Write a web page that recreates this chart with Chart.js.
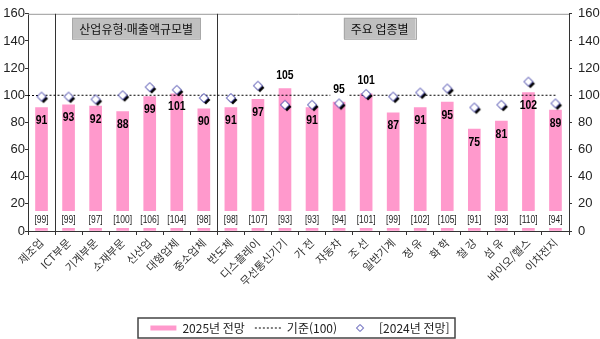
<!DOCTYPE html>
<html lang="ko">
<head>
<meta charset="utf-8">
<script src="https://cdn.jsdelivr.net/npm/chart.js@4.4.1/dist/chart.umd.min.js"></script>
<style>
  html, body { margin: 0; padding: 0; background: #fff; }
  #wrap { width: 600px; height: 339px; }
</style>
</head>
<body>
<div id="wrap"><canvas id="chart"></canvas></div>
<script>
// --- DATA ---
const categories = ['제조업', 'ICT부문', '기계부문', '소재부문', '신산업', '대형업체', '중소업체',
    '반도체', '디스플레이', '무선통신기기', '가 전', '자동차', '조 선', '일반기계',
    '정 유', '화 학', '철 강', '섬 유', '바이오/헬스', '이차전지'];
const outlook2025 = [91, 93, 92, 88, 99, 101, 90, 91, 97, 105, 91, 95, 101, 87, 91, 95, 75, 81, 102, 89];
const outlook2024 = [99, 99, 97, 100, 106, 104, 98, 98, 107, 93, 93, 94, 101, 99, 102, 105, 91, 93, 110, 94];
const baseline = [100, 100, 100, 100, 100, 100, 100, 100, 100, 100, 100, 100, 100, 100, 100, 100, 100, 100, 100, 100];
const groupTitles = ['산업유형·매출액규모별', '주요 업종별'];
const seriesNames = ['2025년 전망', '기준(100)', '[2024년 전망]'];

// --- STYLE ---
const PINK = '#FF99CC';
const KR_FONT = "'Noto Sans CJK KR', 'Noto Sans', sans-serif";
const NUM_FONT = "'Liberation Sans', Arial, sans-serif";

function diamond(g, cx, cy, r) {
    g.beginPath();
    g.moveTo(cx, cy - r);
    g.lineTo(cx + r, cy);
    g.lineTo(cx, cy + r);
    g.lineTo(cx - r, cy);
    g.closePath();
}

// marker with black drop shadow, as in the Excel original
function makeMarker(r, shadow) {
    const c = document.createElement('canvas');
    c.width = c.height = 16;
    const g = c.getContext('2d');
    if (shadow) {
        diamond(g, 10, 10, r);
        g.fillStyle = '#000';
        g.fill();
    }
    diamond(g, 8, 8, r);
    g.fillStyle = '#fff';
    g.fill();
    g.lineWidth = 1;
    g.strokeStyle = '#3A3AA8';
    g.stroke();
    return c;
}

const markerImg = makeMarker(4.5, true);
const legendMarkerImg = makeMarker(3.5, false);

// draws text squeezed horizontally (the original uses a narrow font)
function narrowText(ctx, text, cx, cy, sx) {
    ctx.save();
    ctx.translate(cx, cy);
    ctx.scale(sx, 1);
    ctx.fillText(text, 0, 0);
    ctx.restore();
}

// --- OVERLAY: separators, group boxes, value labels, legend frame ---
const overlayPlugin = {
    id: 'overlay',
    beforeDatasetsDraw(chart, args, opts) {
        const { ctx, chartArea: a, scales: { x, y } } = chart;
        ctx.save();
        // top border of plot area
        ctx.strokeStyle = '#999';
        ctx.lineWidth = 1;
        ctx.beginPath();
        ctx.moveTo(a.left, a.top + 0.5);
        ctx.lineTo(a.right, a.top + 0.5);
        ctx.stroke();

        // group separators
        ctx.strokeStyle = '#333';
        opts.separators.forEach(i => {
            const px = Math.round((x.getPixelForValue(i - 1) + x.getPixelForValue(i)) / 2) + 0.5;
            ctx.beginPath();
            ctx.moveTo(px, a.top);
            ctx.lineTo(px, a.bottom);
            ctx.stroke();
        });

        // dotted baseline from the axis to the first category
        ctx.setLineDash([2, 2]);
        ctx.strokeStyle = '#000';
        const by = Math.round(y.getPixelForValue(100)) + 0.5;
        ctx.beginPath();
        ctx.moveTo(a.left, by);
        ctx.lineTo(x.getPixelForValue(0), by);
        ctx.stroke();
        ctx.setLineDash([]);

        // group title boxes
        ctx.font = '12px ' + KR_FONT;
        ctx.textAlign = 'center';
        ctx.textBaseline = 'middle';
        opts.groupCenters.forEach((c, k) => {
            const cx = (x.getPixelForValue(c - 0.5));
            const w = ctx.measureText(groupTitles[k]).width + 14;
            const top = a.top + 4, h = 21;
            ctx.fillStyle = '#C0C0C0';
            ctx.fillRect(cx - w / 2, top, w, h);
            ctx.strokeStyle = '#A8A8A8';
            ctx.strokeRect(Math.round(cx - w / 2) + 0.5, top + 0.5, Math.round(w), h);
            ctx.fillStyle = '#111';
            ctx.fillText(groupTitles[k], cx, top + h / 2 + 1);
        });
        ctx.restore();
    },
    afterDatasetsDraw(chart, args, opts) {
        const { ctx, scales: { x, y } } = chart;
        const y0 = y.getPixelForValue(0);
        ctx.save();
        ctx.textAlign = 'center';
        ctx.textBaseline = 'middle';

        // [2024] labels on a white band near the bottom of each bar
        ctx.font = '10px ' + NUM_FONT;
        outlook2024.forEach((v, i) => {
            const t = '[' + v + ']';
            const cx = x.getPixelForValue(i);
            const w = ctx.measureText(t).width * 0.85 + 4;
            ctx.fillStyle = '#fff';
            ctx.fillRect(cx - w / 2, y0 - 20, w, 17);
            ctx.fillStyle = '#222';
            narrowText(ctx, t, cx, y0 - 11, 0.85);
        });

        // 2025 values
        ctx.font = 'bold 13px ' + NUM_FONT;
        outlook2025.forEach((v, i) => {
            const cx = x.getPixelForValue(i);
            const top = y.getPixelForValue(v);
            const t = String(v);
            if (opts.aboveIdx.includes(i)) {
                const w = ctx.measureText(t).width * 0.8 + 6;
                ctx.fillStyle = '#fff';
                ctx.fillRect(cx - w / 2, top - 21, w, 15);
                ctx.fillStyle = '#000';
                narrowText(ctx, t, cx, top - 13, 0.8);
            } else {
                ctx.fillStyle = '#000';
                narrowText(ctx, t, cx, top + 13, 0.8);
            }
        });
        ctx.restore();
    },
    afterDraw(chart) {
        const boxes = chart.legend && chart.legend.legendHitBoxes;
        if (!boxes || !boxes.length) return;
        const { ctx } = chart;
        const left = Math.min(...boxes.map(b => b.left)) - 12;
        const right = Math.max(...boxes.map(b => b.left + b.width)) + 6;
        const cy = boxes[0].top + boxes[0].height / 2;
        ctx.save();
        ctx.strokeStyle = '#444';
        ctx.lineWidth = 1.5;
        ctx.strokeRect(Math.round(left), Math.round(cy - 10), Math.round(right - left), 20);
        ctx.restore();
    }
};

const tickFont = { family: NUM_FONT, size: 13 };

new Chart(document.getElementById('chart'), {
    type: 'bar',
    data: {
        labels: categories,
        datasets: [
            {
                label: seriesNames[0],
                data: outlook2025,
                backgroundColor: PINK,
                barThickness: 12,
                order: 3,
                yAxisID: 'y'
            },
            {
                type: 'line',
                label: seriesNames[1],
                data: baseline,
                borderColor: '#000',
                borderWidth: 1,
                borderDash: [2, 2],
                pointRadius: 0,
                order: 2,
                yAxisID: 'y'
            },
            {
                type: 'line',
                label: seriesNames[2],
                data: outlook2024,
                showLine: false,
                pointStyle: markerImg,
                pointRadius: 5,
                order: 1,
                yAxisID: 'y'
            }
        ]
    },
    options: {
        responsive: true,
        maintainAspectRatio: false,
        animation: false,
        layout: { padding: { top: 10, left: 0, right: 0, bottom: -5 } },
        scales: {
            x: {
                grid: { offset: true, drawOnChartArea: false, tickLength: 4, tickColor: '#333' },
                border: { color: '#333' },
                ticks: {
                    minRotation: 45, maxRotation: 45, autoSkip: false, padding: 1,
                    color: '#333', font: { family: KR_FONT, size: 11 }
                },
                afterFit(scale) { scale.height = 81; }
            },
            y: {
                position: 'left',
                min: 0, max: 160,
                grid: { drawOnChartArea: false, tickLength: 3, tickColor: '#333' },
                border: { color: '#333' },
                ticks: { stepSize: 20, padding: 0, color: '#222', font: tickFont },
                afterFit(scale) { scale.width = 28; }
            },
            y2: {
                position: 'right',
                min: 0, max: 160,
                grid: { drawOnChartArea: false, tickLength: 3, tickColor: '#333' },
                border: { color: '#333' },
                ticks: { stepSize: 20, padding: 6, color: '#222', font: tickFont },
                afterFit(scale) { scale.width = 31; }
            }
        },
        plugins: {
            tooltip: { enabled: false },
            overlay: { separators: [1, 7], groupCenters: [4, 13], aboveIdx: [9, 11, 12] },
            legend: {
                position: 'bottom',
                labels: {
                    usePointStyle: true,
                    pointStyleWidth: 26,
                    boxHeight: 5,
                    padding: 10,
                    color: '#222',
                    font: { family: KR_FONT, size: 12 },
                    sort: (a, b) => a.datasetIndex - b.datasetIndex,
                    generateLabels(chart) {
                        const items = Chart.defaults.plugins.legend.labels.generateLabels(chart);
                        items.forEach(item => {
                            if (item.datasetIndex === 0) {
                                item.pointStyle = 'rect';
                                item.fillStyle = PINK;
                                item.strokeStyle = PINK;
                                item.lineWidth = 0;
                            } else if (item.datasetIndex === 1) {
                                item.pointStyle = 'line';
                                item.strokeStyle = '#000';
                                item.lineWidth = 1;
                                item.lineDash = [2, 2];
                            } else {
                                item.pointStyle = legendMarkerImg;
                            }
                        });
                        return items;
                    }
                }
            }
        }
    },
    plugins: [overlayPlugin]
});
</script>
</body>
</html>
